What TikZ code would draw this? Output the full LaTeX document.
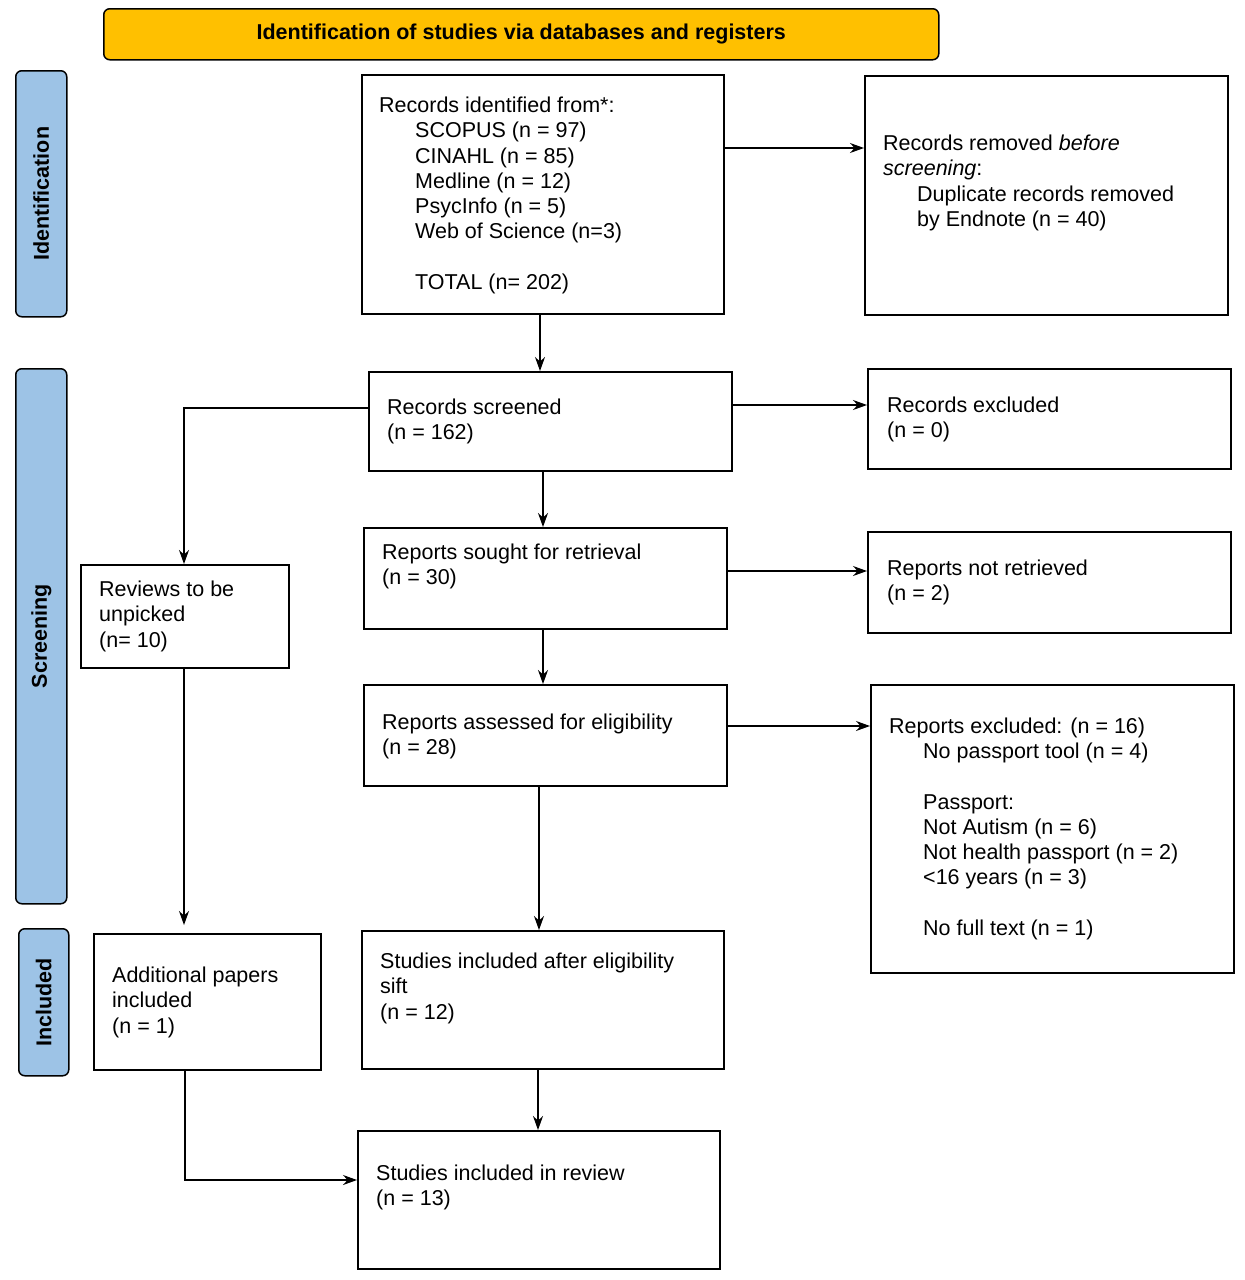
\documentclass[tikz,border=0pt]{standalone}
\usepackage{fontspec}
\setmainfont{Liberation Sans}
\usetikzlibrary{arrows.meta}
\definecolor{headorange}{HTML}{FFC000}
\definecolor{sideblue}{HTML}{9DC3E6}
\begin{document}
\begin{tikzpicture}[x=1pt,y=-1pt,>={Stealth[length=14pt,width=10pt]},
  box/.style={draw, line width=1.5pt, anchor=north west, inner sep=0pt},
  txt/.style={anchor=north west, align=left, inner sep=0pt, font=\fontsize{21.5}{25.2}\selectfont},
  side/.style={draw, line width=1.5pt, fill=sideblue, rounded corners=6pt, anchor=north west, inner sep=0pt},
  sidetxt/.style={rotate=90, font=\fontsize{21.5}{24}\selectfont\bfseries},
  flow/.style={->, line width=1.2pt}]
\useasboundingbox (0,0) rectangle (1245,1280);

% header and phase bars
\node[side, fill=headorange, minimum width=835, minimum height=51] (head) at (103,8) {};
\node[font=\fontsize{21.5}{24}\selectfont\bfseries] at (head.center) {Identification of studies via databases and registers};
\node[side, minimum width=51, minimum height=246] (sideid) at (15,70) {};
\node[sidetxt] at (sideid.center) {Identification};
\node[side, minimum width=51, minimum height=535] (sidescr) at (15,368) {};
\node[sidetxt] at (sidescr.center) {Screening};
\node[side, minimum width=50, minimum height=147] (sideinc) at (18,928) {};
\node[sidetxt] at (sideinc.center) {Included};

% boxes
\node[box, minimum width=362, minimum height=239] (rec) at (361,74) {};
\node[box, minimum width=363, minimum height=239] (removed) at (864,75) {};
\node[box, minimum width=363, minimum height=99] (screened) at (368,371) {};
\node[box, minimum width=363, minimum height=100] (excluded) at (867,368) {};
\node[box, minimum width=363, minimum height=101] (sought) at (363,527) {};
\node[box, minimum width=363, minimum height=101] (notret) at (867,531) {};
\node[box, minimum width=363, minimum height=101] (assessed) at (363,684) {};
\node[box, minimum width=363, minimum height=288] (repexcl) at (870,684) {};
\node[box, minimum width=208, minimum height=103] (reviews) at (80,564) {};
\node[box, minimum width=227, minimum height=136] (addl) at (93,933) {};
\node[box, minimum width=362, minimum height=138] (sift) at (361,930) {};
\node[box, minimum width=362, minimum height=138] (review) at (357,1130) {};

% texts
\node[txt] at (379,97) {Records identified from*:\\
  \hspace{36pt}SCOPUS (n = 97)\\
  \hspace{36pt}CINAHL (n = 85)\\
  \hspace{36pt}Medline (n = 12)\\
  \hspace{36pt}PsycInfo (n = 5)\\
  \hspace{36pt}Web of Science (n=3)\\[25.2pt]
  \hspace{36pt}TOTAL (n= 202)};
\node[txt] at (883,135) {Records removed \emph{before}\\\emph{screening}:\\
  \hspace{34pt}Duplicate records removed\\
  \hspace{34pt}by Endnote (n = 40)};
\node[txt] at (387,399) {Records screened\\(n = 162)};
\node[txt] at (887,397) {Records excluded\\(n = 0)};
\node[txt] at (382,544) {Reports sought for retrieval\\(n = 30)};
\node[txt] at (887,560) {Reports not retrieved\\(n = 2)};
\node[txt] at (382,714) {Reports assessed for eligibility\\(n = 28)};
\node[txt] at (889,718) {Reports excluded: (n = 16)\\
  \hspace{34pt}No passport tool (n = 4)\\[25.2pt]
  \hspace{34pt}Passport:\\
  \hspace{34pt}Not Autism (n = 6)\\
  \hspace{34pt}Not health passport (n = 2)\\
  \hspace{34pt}<16 years (n = 3)\\[25.2pt]
  \hspace{34pt}No full text (n = 1)};
\node[txt] at (99,581) {Reviews to be\\unpicked\\(n= 10)};
\node[txt] at (112,967) {Additional papers\\included\\(n = 1)};
\node[txt] at (380,953) {Studies included after eligibility\\sift\\(n = 12)};
\node[txt] at (376,1165) {Studies included in review\\(n = 13)};

% connectors
\draw[flow] (rec.south -| 540,0) -- (screened.north -| 540,0);
\draw[flow] (rec.east |- 0,148) -- (removed.west |- 0,148);
\draw[flow] (screened.east |- 0,405) -- (excluded.west |- 0,405);
\draw[flow] (screened.south -| 543,0) -- (sought.north -| 543,0);
\draw[flow] (sought.east |- 0,571) -- (notret.west |- 0,571);
\draw[flow] (sought.south -| 543,0) -- (assessed.north -| 543,0);
\draw[flow] (assessed.east |- 0,726) -- (repexcl.west |- 0,726);
\draw[flow] (assessed.south -| 539,0) -- (sift.north -| 539,0);
\draw[flow] (sift.south -| 538,0) -- (review.north -| 538,0);
\draw[flow] (screened.west |- 0,408) -| (reviews.north -| 184,0);
\draw[flow] (reviews.south -| 184,0) -- (184,925);
\draw[flow] (addl.south -| 185,0) |- (review.west |- 0,1180);
\end{tikzpicture}
\end{document}
